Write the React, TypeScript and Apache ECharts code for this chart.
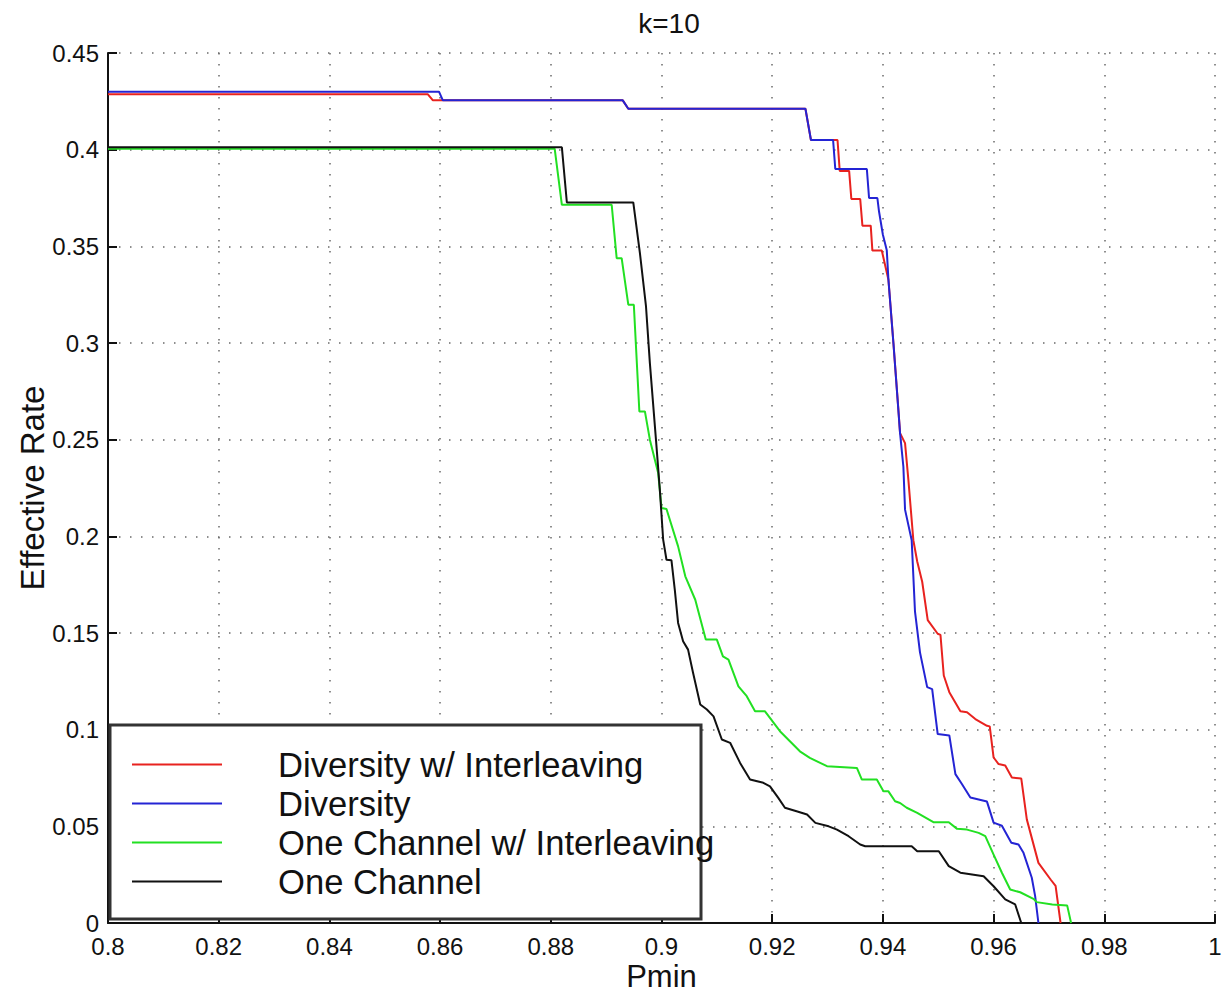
import React, { useEffect, useRef } from "react";
import * as echarts from "echarts";

const TITLE = "k=10";
const X_NAME = "Pmin";
const Y_NAME = "Effective Rate";
const SERIES_NAMES = [
  "Diversity w/ Interleaving",
  "Diversity",
  "One Channel w/ Interleaving",
  "One Channel",
];
const SERIES_COLORS = ["#e8221f", "#2424d4", "#22e022", "#111111"];

const divInterleave: [number, number][] = [
  [0.8, 0.4286], [0.8578, 0.4286], [0.8587, 0.4255], [0.893, 0.4255], [0.894, 0.4212],
  [0.926, 0.4212], [0.927, 0.405], [0.9318, 0.405], [0.9322, 0.389], [0.9339, 0.389],
  [0.9343, 0.3745], [0.9359, 0.3745], [0.9363, 0.3607], [0.9378, 0.3607], [0.9381, 0.3478],
  [0.9398, 0.3478], [0.941, 0.3327], [0.9419, 0.3], [0.9428, 0.2655], [0.9431, 0.2534],
  [0.944, 0.2482], [0.9446, 0.2293], [0.9455, 0.198], [0.9462, 0.187], [0.9471, 0.1765],
  [0.9481, 0.1567], [0.9499, 0.1496], [0.9504, 0.149], [0.951, 0.128], [0.952, 0.1194],
  [0.954, 0.1095], [0.9552, 0.109], [0.9567, 0.1055], [0.9588, 0.102], [0.9593, 0.1017],
  [0.96, 0.0856], [0.9609, 0.0822], [0.9621, 0.0815], [0.9633, 0.0753], [0.965, 0.0747],
  [0.966, 0.0536], [0.9681, 0.0311], [0.9703, 0.0225], [0.9712, 0.0192], [0.9721, 0],
];

const diversity: [number, number][] = [
  [0.8, 0.43], [0.8598, 0.43], [0.8605, 0.4255], [0.893, 0.4255], [0.894, 0.4212],
  [0.926, 0.4212], [0.927, 0.405], [0.931, 0.405], [0.9314, 0.39], [0.9371, 0.39],
  [0.9375, 0.375], [0.939, 0.375], [0.9393, 0.368], [0.94, 0.356], [0.9407, 0.348],
  [0.941, 0.3327], [0.9419, 0.3], [0.9431, 0.2534], [0.9437, 0.236], [0.944, 0.2138],
  [0.9452, 0.198], [0.9458, 0.161], [0.9467, 0.14], [0.948, 0.122], [0.9489, 0.121],
  [0.9499, 0.0977], [0.952, 0.097], [0.9531, 0.077], [0.9543, 0.0718], [0.9558, 0.0649],
  [0.9588, 0.0628], [0.96, 0.0519], [0.9615, 0.0503], [0.9632, 0.0415], [0.9645, 0.0406],
  [0.9654, 0.0363], [0.9669, 0.0234], [0.9675, 0.014], [0.9681, 0],
];

const oneChInterleave: [number, number][] = [
  [0.8, 0.4005], [0.8807, 0.4005], [0.882, 0.3715], [0.891, 0.3715], [0.8919, 0.3439],
  [0.8928, 0.3439], [0.894, 0.3198], [0.895, 0.3198], [0.896, 0.2646], [0.897, 0.2646],
  [0.8979, 0.25], [0.8994, 0.2327], [0.9, 0.2147], [0.9009, 0.2141], [0.903, 0.1948],
  [0.9043, 0.1793], [0.9061, 0.1672], [0.908, 0.1466], [0.91, 0.1466], [0.9111, 0.1379],
  [0.9121, 0.1362], [0.9139, 0.1224], [0.9154, 0.1173], [0.9169, 0.1095], [0.9187, 0.1095],
  [0.9214, 0.0992], [0.9232, 0.094], [0.925, 0.0888], [0.9268, 0.0854], [0.9299, 0.0811],
  [0.9353, 0.0802], [0.9362, 0.0742], [0.9389, 0.0742], [0.9401, 0.0681], [0.941, 0.0681],
  [0.9422, 0.063], [0.9431, 0.0621], [0.9443, 0.0596], [0.9462, 0.057], [0.9492, 0.0521],
  [0.9519, 0.0521], [0.9534, 0.0487], [0.9552, 0.0483], [0.9573, 0.0466], [0.9585, 0.0449],
  [0.96, 0.0354], [0.9615, 0.026], [0.963, 0.0173], [0.9648, 0.0159], [0.9672, 0.0125],
  [0.9678, 0.0108], [0.9706, 0.0096], [0.9733, 0.009], [0.974, 0],
];

const oneChannel: [number, number][] = [
  [0.8, 0.4012], [0.882, 0.4012], [0.8829, 0.3727], [0.8949, 0.3727], [0.8961, 0.3465],
  [0.8972, 0.3189], [0.8979, 0.2896], [0.899, 0.25], [0.8997, 0.2241], [0.9003, 0.1983],
  [0.9009, 0.1879], [0.9018, 0.1876], [0.9024, 0.1724], [0.903, 0.1552], [0.9039, 0.1457],
  [0.9048, 0.1414], [0.9057, 0.1294], [0.907, 0.113], [0.9082, 0.1104], [0.9094, 0.1069],
  [0.9109, 0.0949], [0.9124, 0.0932], [0.9142, 0.0828], [0.916, 0.0742], [0.9184, 0.0725],
  [0.9196, 0.0707], [0.9211, 0.0647], [0.9223, 0.0596], [0.9244, 0.0578], [0.9263, 0.0561],
  [0.9278, 0.0518], [0.9302, 0.05], [0.9317, 0.0483], [0.9338, 0.0449], [0.9359, 0.0406],
  [0.9368, 0.0397], [0.9452, 0.0397], [0.9462, 0.0371], [0.9501, 0.0371], [0.9519, 0.0294],
  [0.954, 0.026], [0.9582, 0.0242], [0.96, 0.019], [0.9621, 0.0122], [0.9639, 0.0096],
  [0.965, 0],
];

const SERIES_DATA = [divInterleave, diversity, oneChInterleave, oneChannel];

const FONT = "'Liberation Sans', Arial, Helvetica, sans-serif";

export default function App() {
  const ref = useRef<HTMLDivElement>(null);
  useEffect(() => {
    if (!ref.current) return;
    const chart = echarts.init(ref.current, undefined, { renderer: "svg" });
    const fmt = (v: number) => String(parseFloat(v.toFixed(2)));
    const gridLine = { show: true, lineStyle: { color: "#6a6a6a", width: 1.5, type: [1.5, 9.5] as any } };
    chart.setOption({
      animation: false,
      backgroundColor: "#ffffff",
      textStyle: { fontFamily: FONT },
      title: {
        text: TITLE,
        left: 664,
        textAlign: "center",
        top: 4,
        textStyle: { fontFamily: FONT, fontSize: 28, fontWeight: "normal", color: "#111" },
      },
      grid: {
        left: 108,
        right: 8,
        top: 53,
        bottom: 69,
        containLabel: false,
        outerBoundsMode: "none",
      },
      xAxis: {
        type: "value",
        min: 0.8,
        max: 1,
        interval: 0.02,
        name: X_NAME,
        nameLocation: "middle",
        nameGap: 38,
        nameMoveOverlap: false,
        nameTextStyle: { fontFamily: FONT, fontSize: 31, lineHeight: 30, color: "#111" },
        axisLine: { show: true, onZero: false, lineStyle: { color: "#111", width: 2 } },
        axisTick: { show: true, inside: true, length: 9, lineStyle: { color: "#111", width: 2 } },
        axisLabel: { fontFamily: FONT, fontSize: 24, lineHeight: 22, color: "#111", margin: 12, formatter: fmt },
        splitLine: gridLine,
      },
      yAxis: {
        type: "value",
        min: 0,
        max: 0.45,
        interval: 0.05,
        name: Y_NAME,
        nameLocation: "middle",
        nameGap: 59,
        nameMoveOverlap: false,
        nameTextStyle: { fontFamily: FONT, fontSize: 33, color: "#111" },
        axisLine: { show: true, lineStyle: { color: "#111", width: 2 } },
        axisTick: { show: true, inside: true, length: 9, lineStyle: { color: "#111", width: 2 } },
        axisLabel: { fontFamily: FONT, fontSize: 24, lineHeight: 17, color: "#111", margin: 9, formatter: fmt },
        splitLine: gridLine,
      },
      legend: {
        orient: "vertical",
        left: 132,
        top: 745,
        z: 20,
        icon: "rect",
        itemWidth: 90,
        itemHeight: 2,
        itemGap: 0,
        padding: 0,
        textStyle: {
          fontFamily: FONT,
          fontSize: 34.6,
          lineHeight: 39,
          color: "#111",
          padding: [0, 0, 0, 51],
        },
        data: SERIES_NAMES,
      },
      graphic: [
        {
          type: "rect",
          z: 10,
          shape: { x: 110, y: 725, width: 591, height: 194 },
          style: { fill: "#ffffff", stroke: "#333", lineWidth: 3 },
        },
      ],
      series: SERIES_DATA.map((d, i) => ({
        name: SERIES_NAMES[i],
        type: "line",
        data: d,
        showSymbol: false,
        symbol: "none",
        lineStyle: { color: SERIES_COLORS[i], width: 2 },
        itemStyle: { color: SERIES_COLORS[i] },
        z: 2 + i,
      })),
    });
    return () => chart.dispose();
  }, []);
  return (
    <div
      ref={ref}
      style={{ position: "absolute", left: 0, top: 0, width: 1223, height: 992 }}
    />
  );
}
